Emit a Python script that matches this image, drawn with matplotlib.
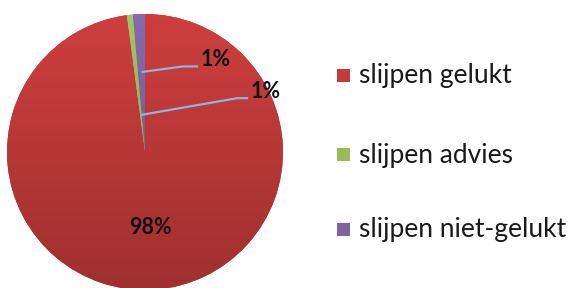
import numpy as np
import matplotlib
matplotlib.use("Agg")
import matplotlib.pyplot as plt
from matplotlib.colors import LinearSegmentedColormap

categories = ["slijpen gelukt", "slijpen advies", "slijpen niet-gelukt"]
values = [97.9, 0.7, 1.4]
labels = ["98%", "1%", "1%"]
colors = ["#C23B3A", "#9BBB59", "#8064A2"]

W, H = 574, 288
fig = plt.figure(figsize=(W / 100, H / 100), dpi=100)
cx, cy, R = 145, 152, 138
ax = fig.add_axes([(cx - R) / W, (H - cy - R) / H, 2 * R / W, 2 * R / H])

wedges, _ = ax.pie(values, colors=colors, startangle=90, counterclock=False,
                   radius=1, center=(0, 0), frame=True)
ax.set_xlim(-1, 1)
ax.set_ylim(-1, 1)
ax.set_aspect("equal")
ax.axis("off")

def shade(c, f):
    rgb = np.array(matplotlib.colors.to_rgb(c))
    return tuple(np.clip(rgb * f, 0, 1))

for w, c in zip(wedges, colors):
    cmap = LinearSegmentedColormap.from_list("g", [shade(c, 0.82), shade(c, 1.06)])
    grad = np.linspace(0, 1, 256).reshape(-1, 1)
    im = ax.imshow(grad, cmap=cmap, extent=(-1, 1, -1, 1), origin="lower",
                   aspect="auto", zorder=w.get_zorder() + 0.1)
    im.set_clip_path(w)

font = ["Lato", "DejaVu Sans"]
tot = sum(values)
angles = []
a = 90.0
for v in values:
    da = v / tot * 360
    angles.append(a - da / 2)
    a -= da

lfs = 15.5
ax.text(0.04, -0.545, labels[0], ha="center", va="center", fontsize=lfs,
        fontweight="bold", family=font, zorder=10, color="#111111")

lc = "#8DB4E2"
th = np.deg2rad(angles[2])
p0 = (0.58 * np.cos(th), 0.58 * np.sin(th))
ax.plot([p0[0], 0.275, 0.385], [p0[1], 0.62, 0.62], color=lc, lw=1.6, zorder=9,
        solid_capstyle="butt")
ax.text(0.405, 0.67, labels[2], ha="left", va="center", fontsize=lfs,
        fontweight="bold", family=font, zorder=10, color="#111111")
th = np.deg2rad(angles[1])
p0 = (0.27 * np.cos(th), 0.27 * np.sin(th))
ax.plot([p0[0], 0.667, 0.748], [p0[1], 0.39, 0.39], color=lc, lw=1.6, zorder=9,
        solid_capstyle="butt")
ax.text(0.765, 0.44, labels[1], ha="left", va="center", fontsize=lfs,
        fontweight="bold", family=font, zorder=10, color="#111111")

ys = [76, 155, 230]
for cat, c, y in zip(categories, colors, ys):
    fig.patches.append(matplotlib.patches.Rectangle(
        (337 / W, 1 - (y + 6) / H), 13 / W, 13 / H, transform=fig.transFigure,
        facecolor=c, edgecolor="none"))
    fig.text(359 / W, 1 - y / H, cat, ha="left", va="center", fontsize=19,
             family=font, color="#1a1a1a")

fig.savefig("out.png", dpi=100)
